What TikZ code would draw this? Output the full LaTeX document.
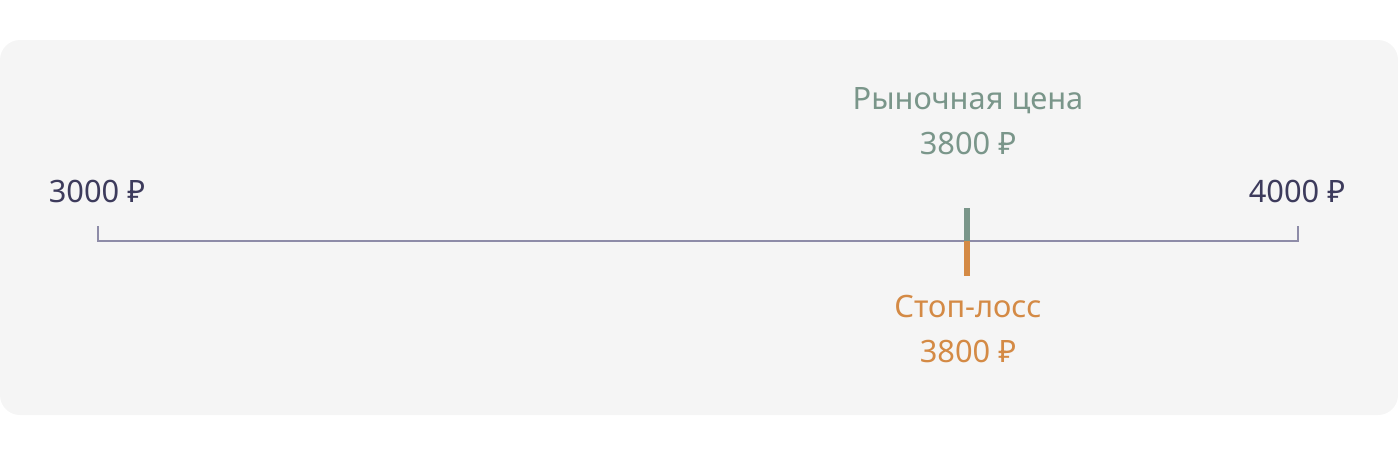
\documentclass[tikz,border=0pt]{standalone}
\usepackage{fontspec}
\setmainfont{Noto Sans}
\definecolor{bgc}{HTML}{F5F5F5}
\definecolor{navy}{HTML}{3D3B5C}
\definecolor{axisc}{HTML}{8E8CA8}
\definecolor{greenc}{HTML}{7A968A}
\definecolor{orangec}{HTML}{D48A45}
\tikzset{
  lbl/.style={anchor=base, inner sep=0pt, font=\fontsize{15.4}{18}\selectfont},
  axisline/.style={draw=axisc, line width=1pt},
}
\begin{document}
\begin{tikzpicture}[x=0.5pt, y=-0.5pt]
\useasboundingbox (0,0) rectangle (1398,456);
\fill[bgc, rounded corners=10pt] (0,40) rectangle (1398,415);
% axis
\coordinate (L) at (97.5,241);
\coordinate (R) at (1297.5,241);
\coordinate (Lt) at (97.5,226);
\coordinate (Rt) at (1297.5,226);
\draw[axisline] (Lt) -- (L) -- (R) -- (Rt);
% markers
\coordinate (M) at (967,241);
\coordinate (Mt) at (967,208);
\coordinate (Mb) at (967,276);
\draw[greenc, line width=3pt] (M) -- (Mt);
\draw[orangec, line width=3pt] (M) -- (Mb);
% labels
\node[lbl, text=navy] (l3000) at (97,202) {3000 ₽};
\node[lbl, text=navy] (l4000) at (1297,202) {4000 ₽};
\node[lbl, text=greenc] (mkt) at (968,109) {Рыночная цена};
\node[lbl, text=greenc] (mktp) at (968,154) {3800 ₽};
\node[lbl, text=orangec] (sl) at (968,317) {Стоп-лосс};
\node[lbl, text=orangec] (slp) at (968,362) {3800 ₽};
\end{tikzpicture}
\end{document}
